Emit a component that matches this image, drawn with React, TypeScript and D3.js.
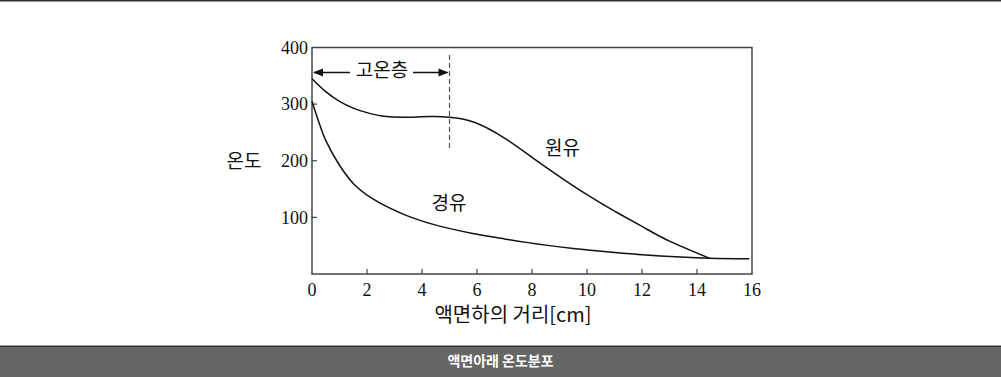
import React from "react";
import * as d3 from "d3";

const crudeX = [0, 0.5, 1, 1.5, 2, 2.7, 3.5, 4.3, 5, 5.9, 7, 8, 9, 10, 11, 12, 13, 14.45];
const crudeY = [345, 322, 305, 293, 285, 278, 277, 278, 277, 268, 240, 206, 172, 140, 111, 84, 58, 28];
const dieselX = [0, 0.25, 0.5, 1, 1.5, 2.2, 3.4, 4.6, 5.8, 7, 8.5, 9.5, 11, 12, 13.4, 14.45, 15.9];
const dieselY = [305, 268, 236, 192, 160, 133, 104, 85, 72, 62, 51, 45, 38, 34, 30, 28, 27];
const xTicks = [0, 2, 4, 6, 8, 10, 12, 14, 16];
const yTicks = [100, 200, 300, 400];
const hotLayerEnd = 5;

export default function App() {
  const W = 1001, H = 377;
  const L = 312, R = 752, T = 47.5, B = 274;
  const x = d3.scaleLinear().domain([0, 16]).range([L, R]);
  const y = d3.scaleLinear().domain([0, 400]).range([B, T]);
  const crudeLine = d3
    .line<[number, number]>()
    .x((d) => x(d[0]))
    .y((d) => y(d[1]))
    .curve(d3.curveNatural);
  const dieselLine = d3
    .line<[number, number]>()
    .x((d) => x(d[0]))
    .y((d) => y(d[1]))
    .curve(d3.curveCatmullRom.alpha(0.5));
  const crude = crudeLine(crudeX.map((v, i) => [v, crudeY[i]]) as [number, number][]) || "";
  const diesel = dieselLine(dieselX.map((v, i) => [v, dieselY[i]]) as [number, number][]) || "";
  const serif = "'Liberation Serif', 'Times New Roman', serif";
  const kr = "'Noto Sans CJK KR', 'Noto Sans', sans-serif";
  const arrowY = 72.5;
  const xEnd = x(hotLayerEnd);
  return (
    <svg width={W} height={H} style={{ position: "absolute", left: 0, top: 0 }}>
      <rect x={0} y={0} width={W} height={H} fill="#fff" />
      <rect x={0} y={0} width={W} height={1.5} fill="#333" />
      <rect x={L} y={T} width={R - L} height={B - T} fill="none" stroke="#444" strokeWidth={1.5} />
      {yTicks.map((t) => (
        <g key={"y" + t}>
          {t < 400 && <line x1={L} x2={L + 5} y1={y(t)} y2={y(t)} stroke="#444" strokeWidth={1.2} />}
          <text x={L - 4} y={y(t)} dy="0.35em" textAnchor="end" fontFamily={serif} fontSize={18} fill="#111">
            {t}
          </text>
        </g>
      ))}
      {xTicks.map((t) => (
        <g key={"x" + t}>
          {t > 0 && t < 16 && <line x1={x(t)} x2={x(t)} y1={B} y2={B - 5} stroke="#444" strokeWidth={1.2} />}
          <text x={x(t)} y={296} textAnchor="middle" fontFamily={serif} fontSize={18} fill="#111">
            {t}
          </text>
        </g>
      ))}
      <path d={crude} fill="none" stroke="#111" strokeWidth={1.5} />
      <path d={diesel} fill="none" stroke="#111" strokeWidth={1.5} />
      <line x1={xEnd} x2={xEnd} y1={55} y2={150} stroke="#555" strokeWidth={1.2} strokeDasharray="5,3" />
      <line x1={L + 2} x2={350} y1={arrowY} y2={arrowY} stroke="#111" strokeWidth={1.3} />
      <line x1={413} x2={xEnd - 2} y1={arrowY} y2={arrowY} stroke="#111" strokeWidth={1.3} />
      <path d={`M${L + 1},${arrowY} l10,-4 l0,8 z`} fill="#111" />
      <path d={`M${xEnd - 1},${arrowY} l-10,-4 l0,8 z`} fill="#111" />
      <text x={382} y={70} dy="0.35em" textAnchor="middle" fontFamily={kr} fontSize={19} fill="#111">
        고온층
      </text>
      <text x={562.5} y={148} dy="0.35em" textAnchor="middle" fontFamily={kr} fontSize={19} fill="#111">
        원유
      </text>
      <text x={449} y={203} dy="0.35em" textAnchor="middle" fontFamily={kr} fontSize={19} fill="#111">
        경유
      </text>
      <text x={244} y={161} dy="0.35em" textAnchor="middle" fontFamily={kr} fontSize={19} fill="#111">
        온도
      </text>
      <text x={513} y={315} dy="0.35em" textAnchor="middle" fontFamily={kr} fontSize={20} fill="#111">
        액면하의 거리[cm]
      </text>
      <rect x={0} y={346} width={W} height={H - 346} fill="#666" />
      <rect x={0} y={345.5} width={W} height={1.5} fill="#333" />
      <text x={500.5} y={361.5} dy="0.35em" textAnchor="middle" fontFamily={kr} fontWeight={700} fontSize={14} fill="#fff">
        액면아래 온도분포
      </text>
    </svg>
  );
}
